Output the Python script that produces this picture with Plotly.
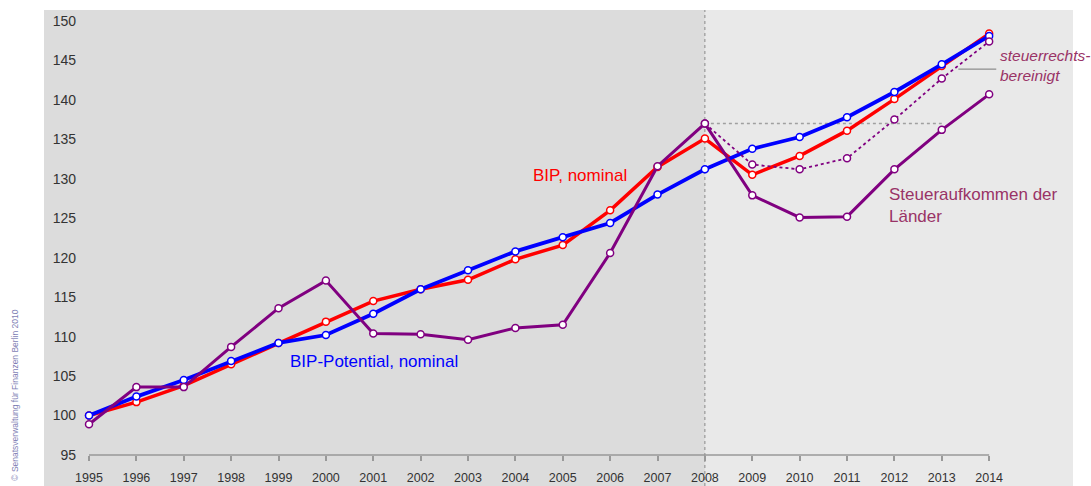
import plotly.graph_objects as go

years = list(range(1995, 2015))
bip_potential = [100.0, 102.4, 104.5, 106.9, 109.2, 110.2, 112.9, 116.0, 118.4, 120.8, 122.6, 124.4,
                 128.0, 131.2, 133.8, 135.3, 137.8, 141.0, 144.5, 148.1]
bip_nominal = [100.0, 101.7, 103.8, 106.5, 109.2, 111.9, 114.5, 116.0, 117.2, 119.8, 121.6, 126.0,
               131.5, 135.1, 130.5, 132.9, 136.1, 140.1, 144.3, 148.4]
steuer = [98.9, 103.6, 103.6, 108.7, 113.6, 117.1, 110.4, 110.3, 109.6, 111.1, 111.5, 120.6,
          131.6, 137.0, 127.9, 125.1, 125.2, 131.2, 136.2, 140.7]
years_ber = list(range(2008, 2015))
steuer_bereinigt = [137.0, 131.8, 131.2, 132.6, 137.5, 142.7, 147.4]

y_ticks = list(range(95, 151, 5))
forecast_start = 2008
ref_level = 137.0

XMIN, XMAX = 1994.05, 2015.77
YMIN, YMAX = 91.07, 151.39

font = "Liberation Sans, Arial, sans-serif"

BLUE = "#0000ff"
RED = "#ff0000"
PURPLE = "#800080"
LABEL = "#993366"

fig = go.Figure()

def add_line(x, y, color, width, dash="solid", msize=7):
    fig.add_trace(go.Scatter(
        x=x, y=y, mode="lines+markers",
        line=dict(color=color, width=width, dash=dash),
        marker=dict(size=msize, color="white", line=dict(color=color, width=1.5)),
        showlegend=False, hoverinfo="skip"))

add_line(years, bip_nominal, RED, 3.5)
add_line(years, bip_potential, BLUE, 3.8)
add_line(years_ber, steuer_bereinigt, PURPLE, 1.8, dash="dot")
add_line(years, steuer, PURPLE, 3)

shapes = [
    dict(type="rect", xref="x", yref="paper", x0=XMIN, x1=forecast_start, y0=0, y1=1,
         fillcolor="#dcdcdc", line=dict(width=0), layer="below"),
    dict(type="rect", xref="x", yref="paper", x0=forecast_start, x1=XMAX, y0=0, y1=1,
         fillcolor="#e9e9e9", line=dict(width=0), layer="below"),
    dict(type="line", xref="x", yref="paper", x0=forecast_start, x1=forecast_start, y0=0, y1=1,
         line=dict(color="#888888", width=1, dash="3px,3px"), layer="below"),
    dict(type="line", xref="x", yref="y", x0=forecast_start, x1=2013, y0=ref_level, y1=ref_level,
         line=dict(color="#a0a0a0", width=1.5, dash="3px,3px"), layer="below"),
    dict(type="line", xref="x", yref="y", x0=years[0], x1=years[-1], y0=95, y1=95,
         line=dict(color="#999999", width=1.5), layer="below"),
    dict(type="line", xref="x", yref="y", x0=2013.35, x1=2014.15, y0=143.9, y1=143.9,
         line=dict(color="#777777", width=1), layer="above"),
]

annotations = [
    dict(x=2005.37, y=130.36, xref="x", yref="y", text="BIP, nominal", showarrow=False,
         font=dict(family=font, size=17, color=RED), xanchor="center", yanchor="middle"),
    dict(x=2001.02, y=106.9, xref="x", yref="y", text="BIP-Potential, nominal", showarrow=False,
         font=dict(family=font, size=17, color=BLUE), xanchor="center", yanchor="middle"),
    dict(x=2011.85, y=126.6, xref="x", yref="y", text="Steueraufkommen der<br>Länder", showarrow=False,
         align="left", font=dict(family=font, size=17, color=LABEL), xanchor="left", yanchor="middle"),
    dict(x=2014.19, y=144.36, xref="x", yref="y", text="<i>steuerrechts-<br>bereinigt</i>", showarrow=False,
         align="left", font=dict(family=font, size=15.5, color=LABEL), xanchor="left", yanchor="middle"),
    dict(x=-0.029, y=0.19, xref="paper", yref="paper", text="© Senatsverwaltung für Finanzen Berlin 2010",
         showarrow=False, textangle=-90, font=dict(family=font, size=8.5, color="#7f7fb5"),
         xanchor="center", yanchor="middle"),
]

fig.update_layout(
    width=1091, height=486,
    margin=dict(l=44, r=18, t=10, b=0, autoexpand=False),
    paper_bgcolor="white", plot_bgcolor="#e9e9e9",
    shapes=shapes, annotations=annotations,
    xaxis=dict(range=[XMIN, XMAX], tickvals=years, ticktext=[str(y) for y in years],
               showgrid=False, zeroline=False, showline=False,
               ticks="outside", ticklen=5, tickcolor="#999999", tickwidth=1.5,
               anchor="free", position=(486 - 455) / 476, ticklabelstandoff=6,
               tickfont=dict(family=font, size=12.5, color="#333333")),
    yaxis=dict(range=[YMIN, YMAX], tickvals=y_ticks, showgrid=False, zeroline=False, showline=False,
               ticks="", anchor="free", position=(76 - 44) / 1029,
               tickfont=dict(family=font, size=14, color="#333333")),
)

fig.write_html("out.html", config={"displayModeBar": False},
               post_script="document.body.style.margin='0';")
